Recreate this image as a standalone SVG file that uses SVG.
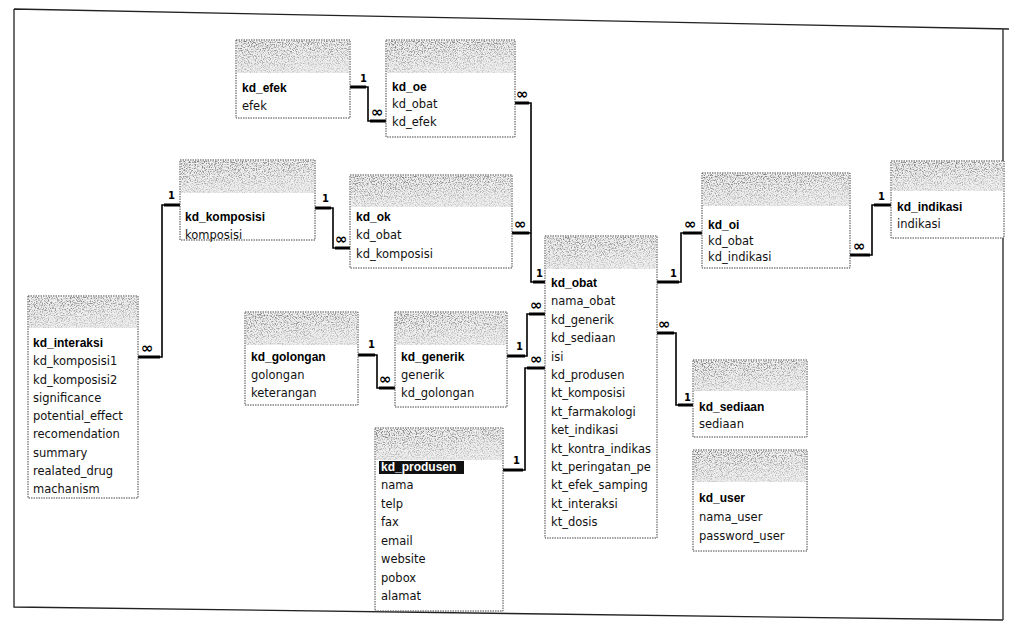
<svg xmlns="http://www.w3.org/2000/svg" width="1009" height="629" viewBox="0 0 1009 629">
<style>
.body{fill:#fff;stroke:#444;stroke-width:1;stroke-dasharray:1.5 1}
.tbase{fill:#eeeeee}
.f{font-family:"DejaVu Sans",sans-serif;font-size:11.5px;fill:#111}
.k{font-family:"Liberation Sans",Arial,sans-serif;font-size:12px;font-weight:bold;fill:#000}
.lbl{font-family:"DejaVu Sans",sans-serif;font-size:10px;font-weight:bold;fill:#000}
.inf{font-family:"DejaVu Sans",sans-serif;font-size:15px;font-weight:bold;fill:#000}
.cn{fill:none;stroke:#000;stroke-width:1.6}
.stub{fill:none;stroke:#000;stroke-width:3}
.frame{fill:none;stroke:#222;stroke-width:1.3}
</style>
<defs>
<linearGradient id="fade" x1="0" y1="0" x2="0.3" y2="1">
<stop offset="0" stop-color="#fff" stop-opacity="0.9"/>
<stop offset="1" stop-color="#fff" stop-opacity="0.3"/>
</linearGradient>
<filter id="speck" x="0" y="0" width="1" height="1">
<feTurbulence type="fractalNoise" baseFrequency="0.85" numOctaves="2" seed="7" result="t"/>
<feColorMatrix in="t" type="matrix" values="0 0 0 0 0.15  0 0 0 0 0.15  0 0 0 0 0.15  4 0 0 0 -1.85" result="d"/>
<feComposite in="d" in2="SourceGraphic" operator="in"/>
</filter>
</defs>
<rect width="1009" height="629" fill="#fff"/>
<path class="frame" d="M14,9 L1009,29 M14,9 V607 L1003,620 M1003,29 V620"/>

<g id="connectors">
<path class="cn" d="M350,87 H368 V121 H386"/>
<path class="cn" d="M515,103 H531 V282 H545"/>
<path class="cn" d="M512,233 H531"/>
<path class="cn" d="M315,208 H333 V248 H350"/>
<path class="cn" d="M180,205 H162 V357 H138"/>
<path class="cn" d="M358,355 H377 V388 H395"/>
<path class="cn" d="M507,356 H527 V314 H545"/>
<path class="cn" d="M503,470 H525 V368 H545"/>
<path class="cn" d="M657,282 H681 V233 H702"/>
<path class="cn" d="M850,255 H872 V205 H891"/>
<path class="cn" d="M657,333 H676 V405 H693"/>
<path class="stub" d="M350,87 H366 M370,121 H386 M515,103 H529 M512,233 H529 M533,282 H545 M315,208 H331 M335,248 H350 M180,205 H164 M160,357 H138 M358,355 H375 M379,388 H395 M507,356 H525 M529,314 H545 M503,470 H523 M527,368 H545 M657,282 H679 M683,233 H702 M850,255 H870 M874,205 H891 M657,333 H674 M678,405 H693"/>
<text class="lbl" x="360" y="82">1</text>
<text class="inf" x="371" y="117">∞</text>
<text class="inf" x="516" y="99">∞</text>
<text class="lbl" x="536" y="277">1</text>
<text class="inf" x="514" y="229">∞</text>
<text class="lbl" x="322" y="202">1</text>
<text class="inf" x="335" y="244">∞</text>
<text class="lbl" x="168" y="199">1</text>
<text class="inf" x="141" y="353">∞</text>
<text class="lbl" x="368" y="348">1</text>
<text class="inf" x="379" y="384">∞</text>
<text class="lbl" x="516" y="350">1</text>
<text class="inf" x="530" y="310">∞</text>
<text class="lbl" x="513" y="464">1</text>
<text class="inf" x="530" y="364">∞</text>
<text class="lbl" x="670" y="277">1</text>
<text class="inf" x="684" y="229">∞</text>
<text class="inf" x="853" y="251">∞</text>
<text class="lbl" x="878" y="200">1</text>
<text class="inf" x="658" y="329">∞</text>
<text class="lbl" x="684" y="401">1</text>
</g>

<g id="t-kd_efek">
<rect class="body" x="236" y="40" width="114" height="78"/>
<rect class="tbase" x="237" y="41" width="112" height="32"/>
<rect x="237" y="41" width="112" height="32" fill="url(#fade)" filter="url(#speck)"/>
<text class="k" x="242" y="92">kd_efek</text>
<text class="f" x="242" y="110">efek</text>
</g>

<g id="t-kd_oe">
<rect class="body" x="386" y="40" width="129" height="97"/>
<rect class="tbase" x="387" y="41" width="127" height="32"/>
<rect x="387" y="41" width="127" height="32" fill="url(#fade)" filter="url(#speck)"/>
<text class="k" x="392" y="91">kd_oe</text>
<text class="f" x="392" y="108">kd_obat</text>
<text class="f" x="392" y="126">kd_efek</text>
</g>

<g id="t-kd_komposisi">
<rect class="body" x="180" y="160" width="135" height="80"/>
<rect class="tbase" x="181" y="161" width="133" height="32"/>
<rect x="181" y="161" width="133" height="32" fill="url(#fade)" filter="url(#speck)"/>
<text class="k" x="185" y="221">kd_komposisi</text>
<text class="f" x="185" y="239">komposisi</text>
</g>

<g id="t-kd_ok">
<rect class="body" x="350" y="175" width="162" height="93"/>
<rect class="tbase" x="351" y="176" width="160" height="31"/>
<rect x="351" y="176" width="160" height="31" fill="url(#fade)" filter="url(#speck)"/>
<text class="k" x="356" y="221">kd_ok</text>
<text class="f" x="356" y="239">kd_obat</text>
<text class="f" x="356" y="258">kd_komposisi</text>
</g>

<g id="t-kd_interaksi">
<rect class="body" x="28" y="296" width="110" height="202"/>
<rect class="tbase" x="29" y="297" width="108" height="31"/>
<rect x="29" y="297" width="108" height="31" fill="url(#fade)" filter="url(#speck)"/>
<text class="k" x="33" y="347">kd_interaksi</text>
<text class="f" x="33" y="365">kd_komposisi1</text>
<text class="f" x="33" y="384">kd_komposisi2</text>
<text class="f" x="33" y="402">significance</text>
<text class="f" x="33" y="420">potential_effect</text>
<text class="f" x="33" y="438">recomendation</text>
<text class="f" x="33" y="457">summary</text>
<text class="f" x="33" y="475">realated_drug</text>
<text class="f" x="33" y="493">machanism</text>
</g>

<g id="t-kd_golongan">
<rect class="body" x="245" y="312" width="113" height="93"/>
<rect class="tbase" x="246" y="313" width="111" height="32"/>
<rect x="246" y="313" width="111" height="32" fill="url(#fade)" filter="url(#speck)"/>
<text class="k" x="251" y="361">kd_golongan</text>
<text class="f" x="251" y="379">golongan</text>
<text class="f" x="251" y="397">keterangan</text>
</g>

<g id="t-kd_generik">
<rect class="body" x="395" y="312" width="112" height="95"/>
<rect class="tbase" x="396" y="313" width="110" height="32"/>
<rect x="396" y="313" width="110" height="32" fill="url(#fade)" filter="url(#speck)"/>
<text class="k" x="401" y="361">kd_generik</text>
<text class="f" x="401" y="379">generik</text>
<text class="f" x="401" y="397">kd_golongan</text>
</g>

<g id="t-kd_produsen">
<rect class="body" x="375" y="428" width="128" height="183"/>
<rect class="tbase" x="376" y="429" width="126" height="31"/>
<rect x="376" y="429" width="126" height="31" fill="url(#fade)" filter="url(#speck)"/>
<rect x="379" y="461" width="85" height="13" fill="#111"/>
<text class="k" x="381" y="471" style="fill:#fff">kd_produsen</text>
<text class="f" x="381" y="489">nama</text>
<text class="f" x="381" y="508">telp</text>
<text class="f" x="381" y="526">fax</text>
<text class="f" x="381" y="545">email</text>
<text class="f" x="381" y="563">website</text>
<text class="f" x="381" y="582">pobox</text>
<text class="f" x="381" y="600">alamat</text>
</g>

<g id="t-kd_obat">
<rect class="body" x="545" y="236" width="112" height="302"/>
<rect class="tbase" x="546" y="237" width="110" height="32"/>
<rect x="546" y="237" width="110" height="32" fill="url(#fade)" filter="url(#speck)"/>
<text class="k" x="551" y="287">kd_obat</text>
<text class="f" x="551" y="305">nama_obat</text>
<text class="f" x="551" y="324">kd_generik</text>
<text class="f" x="551" y="342">kd_sediaan</text>
<text class="f" x="551" y="361">isi</text>
<text class="f" x="551" y="379">kd_produsen</text>
<text class="f" x="551" y="397">kt_komposisi</text>
<text class="f" x="551" y="416">kt_farmakologi</text>
<text class="f" x="551" y="434">ket_indikasi</text>
<text class="f" x="551" y="453">kt_kontra_indikas</text>
<text class="f" x="551" y="471">kt_peringatan_pe</text>
<text class="f" x="551" y="489">kt_efek_samping</text>
<text class="f" x="551" y="508">kt_interaksi</text>
<text class="f" x="551" y="526">kt_dosis</text>
</g>

<g id="t-kd_oi">
<rect class="body" x="702" y="173" width="148" height="95"/>
<rect class="tbase" x="703" y="174" width="146" height="32"/>
<rect x="703" y="174" width="146" height="32" fill="url(#fade)" filter="url(#speck)"/>
<text class="k" x="708" y="229">kd_oi</text>
<text class="f" x="708" y="245">kd_obat</text>
<text class="f" x="708" y="261">kd_indikasi</text>
</g>

<g id="t-kd_indikasi">
<rect class="body" x="891" y="161" width="113" height="77"/>
<rect class="tbase" x="892" y="162" width="111" height="29"/>
<rect x="892" y="162" width="111" height="29" fill="url(#fade)" filter="url(#speck)"/>
<text class="k" x="897" y="211">kd_indikasi</text>
<text class="f" x="897" y="228">indikasi</text>
</g>

<g id="t-kd_sediaan">
<rect class="body" x="693" y="360" width="114" height="77"/>
<rect class="tbase" x="694" y="361" width="112" height="30"/>
<rect x="694" y="361" width="112" height="30" fill="url(#fade)" filter="url(#speck)"/>
<text class="k" x="699" y="411">kd_sediaan</text>
<text class="f" x="699" y="428">sediaan</text>
</g>

<g id="t-kd_user">
<rect class="body" x="693" y="450" width="114" height="101"/>
<rect class="tbase" x="694" y="451" width="112" height="31"/>
<rect x="694" y="451" width="112" height="31" fill="url(#fade)" filter="url(#speck)"/>
<text class="k" x="699" y="502">kd_user</text>
<text class="f" x="699" y="521">nama_user</text>
<text class="f" x="699" y="540">password_user</text>
</g>
</svg>
